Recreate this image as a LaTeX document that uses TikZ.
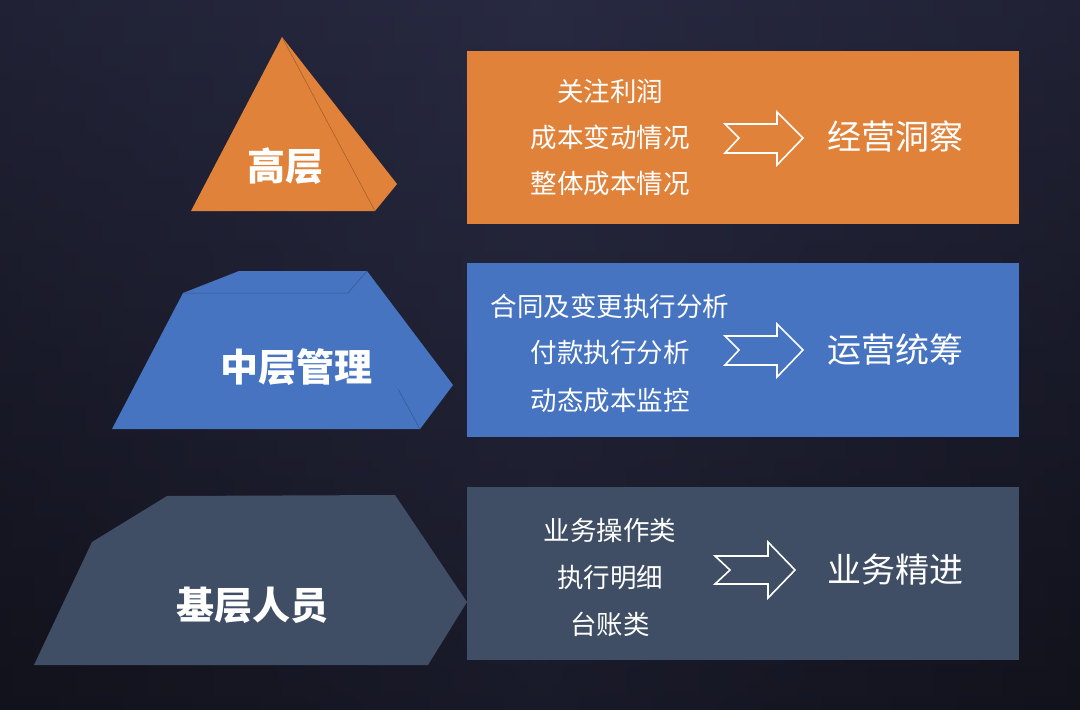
\documentclass[tikz,border=0pt]{standalone}
\usepackage{fontspec}
\setmainfont{Noto Sans CJK SC}
\begin{document}
\begin{tikzpicture}[x=1pt,y=-1pt,
  head/.style={text=white,font=\fontsize{38}{42}\selectfont\bfseries,inner sep=0pt},
  item/.style={text=white,font=\fontsize{26.5}{30}\selectfont,inner sep=0pt},
  goal/.style={text=white,font=\fontsize{34}{38}\selectfont,inner sep=0pt},
  arrowshape/.style={draw=white,line width=1.6pt,line join=miter},
  edge/.style={line width=0.5pt}]
\definecolor{bgtop}{HTML}{282A42}
\definecolor{bgbot}{HTML}{12121C}
\definecolor{cOrange}{HTML}{E0823A}
\definecolor{cBlue}{HTML}{4674C1}
\definecolor{cGray}{HTML}{3F4E64}
\useasboundingbox (0,0) rectangle (1080,710);
\shade[top color=bgtop,bottom color=bgbot] (0,0) rectangle (1080,710);
\shade[left color=bgbot,right color=bgbot,middle color=bgtop,opacity=0.35] (0,0) rectangle (1080,710);

% top pyramid
\fill[cOrange] (282,37) -- (397,184) -- (375,211) -- (191,211) -- cycle;
\draw[edge,draw=cOrange!70!black] (282,37) -- (375,211);
\node[head] (top) at (285,166) {高层};

% middle trapezoid
\fill[cBlue] (239,271) -- (367,271) -- (453,385) -- (420,429) -- (112,429) -- (183,293) -- cycle;
\draw[edge,draw=cBlue!75!black] (183,293) -- (348,293) -- (367,271);
\draw[edge,draw=cBlue!75!black] (398,389) -- (420,429);
\node[head] (mid) at (296,367) {中层管理};

% bottom shape
\fill[cGray] (167,496) -- (395,495) -- (467,602) -- (428,665) -- (34,665) -- (92,542) -- cycle;
\node[head] (bot) at (252,605) {基层人员};

% boxes
\fill[cOrange] (467,51) rectangle (1019,224);
\fill[cBlue] (467,263) rectangle (1019,437);
\fill[cGray] (467,487) rectangle (1019,660);

% top box texts
\node[item] (t1) at (610,91) {关注利润};
\node[item] (t2) at (610,137) {成本变动情况};
\node[item] (t3) at (610,184) {整体成本情况};
\draw[arrowshape] (725,124) -- (777,124) -- (777,112) -- (803,138) -- (777,165) -- (777,153) -- (725,153) -- (739,138) -- cycle;
\node[goal] (g1) at (895,137) {经营洞察};

% middle box texts
\node[item] (m1) at (610,306) {合同及变更执行分析};
\node[item] (m2) at (610,352) {付款执行分析};
\node[item] (m3) at (610,400) {动态成本监控};
\draw[arrowshape] (725,336) -- (777,336) -- (777,324) -- (803,350) -- (777,377) -- (777,365) -- (725,365) -- (739,350) -- cycle;
\node[goal] (g2) at (895,350) {运营统筹};

% bottom box texts
\node[item] (b1) at (610,530) {业务操作类};
\node[item] (b2) at (610,577) {执行明细};
\node[item] (b3) at (610,624) {台账类};
\draw[arrowshape] (715,556) -- (768,556) -- (768,542) -- (795,570) -- (768,598) -- (768,584) -- (715,584) -- (730,570) -- cycle;
\node[goal] (g3) at (895,570) {业务精进};
\end{tikzpicture}
\end{document}
